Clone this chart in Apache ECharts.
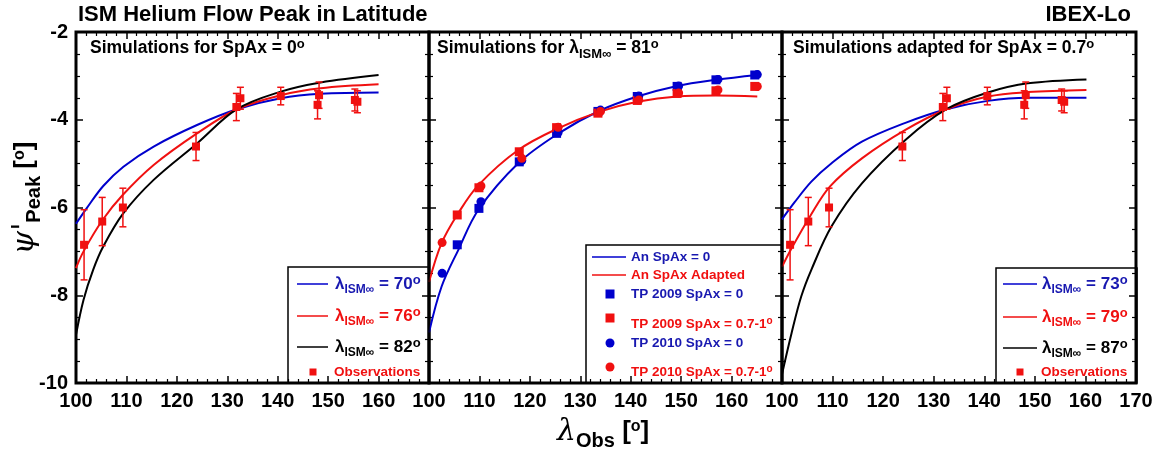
<!DOCTYPE html>
<html>
<head>
<meta charset="utf-8">
<title>ISM Helium Flow Peak in Latitude</title>
<script src="https://cdn.jsdelivr.net/npm/echarts@6/dist/echarts.min.js"></script>
<style>
  html, body { margin: 0; padding: 0; background: #fff; }
  #chart { width: 1164px; height: 455px; }
</style>
</head>
<body>
<div id="chart"></div>
<script>
// observations, shown in panels 1 and 3
const obsX = [101.6, 105.2, 109.3, 123.8, 131.8, 132.6, 140.6, 147.9, 148.2, 155.3, 155.8];
const obsY = [-6.85, -6.32, -6.0, -4.61, -3.71, -3.51, -3.46, -3.66, -3.44, -3.55, -3.59];
const obsErr = [0.8, 0.55, 0.44, 0.32, 0.31, 0.25, 0.2, 0.32, 0.3, 0.25, 0.25];

// panel 1: simulations for SpAx = 0
const p1Lam70 = [[100, -6.37], [102.1, -6.02], [105.4, -5.51], [109.4, -5.07], [115.4, -4.61], [124, -4.12], [131.9, -3.76], [140.6, -3.51], [148.5, -3.41], [160, -3.38]];
const p1Lam76 = [[100, -7.38], [101.5, -7.0], [105.3, -6.28], [109.3, -5.71], [115.4, -5.03], [124, -4.31], [131.9, -3.76], [140.6, -3.44], [148.5, -3.28], [160, -3.19]];
const p1Lam82 = [[100, -8.9], [101.5, -8.1], [103.4, -7.42], [105.4, -6.89], [109.4, -6.13], [115.4, -5.37], [124, -4.54], [131.9, -3.76], [140.6, -3.36], [148.5, -3.15], [160, -2.98]];

// panel 2: simulations for lambda = 81
const p2AnSpAx0 = [[100, -8.85], [102.5, -7.8], [105.8, -6.97], [109.8, -6.05], [117.7, -4.99], [125.7, -4.31], [133.7, -3.8], [141.3, -3.47], [149.2, -3.23], [156.9, -3.09], [165.1, -2.98]];
const p2AnAdapted = [[100, -7.7], [102.5, -6.81], [105.8, -6.13], [109.8, -5.49], [117.7, -4.69], [125.7, -4.19], [133.7, -3.82], [141.3, -3.59], [149.2, -3.47], [156.9, -3.45], [165.1, -3.47]];
const tp2009X = [105.6, 109.9, 117.9, 125.3, 133.5, 141.3, 149.2, 156.9, 164.6];
const tp2009Y0 = [-6.85, -6.02, -4.96, -4.31, -3.81, -3.47, -3.24, -3.09, -2.98];
const tp2009YAd = [-6.17, -5.55, -4.73, -4.18, -3.85, -3.56, -3.4, -3.34, -3.24];
const tp2010X = [102.6, 110.3, 118.4, 125.6, 134.0, 141.6, 149.5, 157.3, 165.1];
const tp2010Y0 = [-7.5, -5.87, -4.93, -4.29, -3.78, -3.46, -3.23, -3.08, -2.97];
const tp2010YAd = [-6.8, -5.51, -4.88, -4.17, -3.81, -3.55, -3.39, -3.32, -3.24];

// panel 3: simulations adapted for SpAx = 0.7
const p3Lam73 = [[100, -6.27], [102.5, -5.88], [105.8, -5.41], [109.8, -4.99], [115.8, -4.5], [124.4, -4.07], [132.5, -3.76], [140.7, -3.57], [148.6, -3.5], [160.2, -3.5]];
const p3Lam79 = [[100, -7.35], [101.9, -6.93], [105.5, -6.21], [109.5, -5.52], [115.8, -4.88], [124.4, -4.23], [132.5, -3.76], [140.7, -3.47], [148.6, -3.37], [160.2, -3.32]];
const p3Lam87 = [[100, -9.8], [101.9, -8.86], [103.8, -8.03], [105.8, -7.42], [109.8, -6.43], [115.8, -5.45], [124.4, -4.46], [132.5, -3.76], [140.7, -3.38], [148.6, -3.17], [160.2, -3.08]];

const FONT = 'Liberation Sans, Arial, Helvetica, sans-serif';
const BLUE = '#0000cc';
const RED = '#f01010';
const TBLUE = '#1818b0';

const chart = echarts.init(document.getElementById('chart'));

const gridBoxes = [
  { left: 76, width: 353 },
  { left: 429, width: 353 },
  { left: 782, width: 354 }
];

const grids = gridBoxes.map(g => ({
  left: g.left, top: 32, width: g.width, height: 351,
  show: true, borderColor: '#000', borderWidth: 3, backgroundColor: 'transparent',
  outerBoundsMode: 'none', containLabel: false
}));

const tickStyle = { color: '#000', width: 1.5 };
const labelStyle = { fontSize: 20, fontWeight: 'bold', color: '#000', fontFamily: FONT };

const xAxes = [];
const yAxes = [];
gridBoxes.forEach((g, i) => {
  ['bottom', 'top'].forEach(pos => {
    xAxes.push({
      type: 'value', gridIndex: i, position: pos, min: 100, max: 170, interval: 10,
      axisLine: { show: false }, splitLine: { show: false },
      axisTick: { show: true, inside: true, length: 7, lineStyle: tickStyle },
      minorTick: { show: true, splitNumber: 5, length: 4, lineStyle: { color: '#000', width: 1.2 } },
      axisLabel: Object.assign({ show: pos === 'bottom', margin: 8, showMinLabel: true, showMaxLabel: i === 2 }, labelStyle)
    });
  });
  ['left', 'right'].forEach(pos => {
    yAxes.push({
      type: 'value', gridIndex: i, position: pos, min: -10, max: -2, interval: 2,
      axisLine: { show: false }, splitLine: { show: false },
      axisTick: { show: true, inside: true, length: 7, lineStyle: tickStyle },
      minorTick: { show: true, splitNumber: 4, length: 4, lineStyle: { color: '#000', width: 1.2 } },
      axisLabel: Object.assign({ show: pos === 'left' && i === 0, margin: 8 }, labelStyle)
    });
  });
});

function curve(name, data, g, color) {
  return {
    name, type: 'line', data, xAxisIndex: 2 * g, yAxisIndex: 2 * g,
    smooth: 0.35, showSymbol: false, symbol: 'none',
    lineStyle: { color, width: 2 }, z: 2, silent: true
  };
}

function pts(name, xs, ys, g, color, symbol, size) {
  return {
    name, type: 'scatter', data: xs.map((x, i) => [x, ys[i]]),
    xAxisIndex: 2 * g, yAxisIndex: 2 * g,
    symbol, symbolSize: size, itemStyle: { color, opacity: 1 }, z: 4, silent: true
  };
}

function errBars(g) {
  return {
    type: 'custom', xAxisIndex: 2 * g, yAxisIndex: 2 * g, silent: true, z: 3,
    data: obsX.map((x, i) => [x, obsY[i] - obsErr[i], obsY[i] + obsErr[i]]),
    encode: { x: 0, y: [1, 2] },
    renderItem: (params, api) => {
      const lo = api.coord([api.value(0), api.value(1)]);
      const hi = api.coord([api.value(0), api.value(2)]);
      const c = 3.5;
      const st = { stroke: RED, lineWidth: 1.5 };
      return {
        type: 'group', children: [
          { type: 'line', shape: { x1: lo[0], y1: lo[1], x2: hi[0], y2: hi[1] }, style: st },
          { type: 'line', shape: { x1: lo[0] - c, y1: lo[1], x2: lo[0] + c, y2: lo[1] }, style: st },
          { type: 'line', shape: { x1: hi[0] - c, y1: hi[1], x2: hi[0] + c, y2: hi[1] }, style: st }
        ]
      };
    }
  };
}

// rich text with sub / superscript
function rt(S, color) {
  const L = Math.round(S * 1.4);
  const ss = Math.round(S * 0.72);
  const up = Math.round(S * 0.24);
  const base = { fontWeight: 'bold', fontFamily: FONT, fill: color };
  return {
    n: Object.assign({}, base, { fontSize: S, lineHeight: L }),
    sub: Object.assign({}, base, { fontSize: ss, lineHeight: ss, padding: [L - ss, 0, 0, 0] }),
    sup: Object.assign({}, base, { fontSize: Math.round(S * 0.75), lineHeight: L - 2 * up, padding: [0, 0, 2 * up, 0] })
  };
}

function txt(x, y, text, rich, align) {
  return { type: 'text', x, y, z: 20, silent: true, style: { text, rich, align: align || 'left', verticalAlign: 'middle' } };
}
function lineEl(x1, x2, y, color) {
  return { type: 'line', z: 20, silent: true, shape: { x1, y1: y, x2, y2: y }, style: { stroke: color, lineWidth: 1.5 } };
}
function sq(cx, cy, s, color) {
  return { type: 'rect', z: 20, silent: true, shape: { x: cx - s / 2, y: cy - s / 2, width: s, height: s }, style: { fill: color } };
}
function dot(cx, cy, r, color) {
  return { type: 'circle', z: 20, silent: true, shape: { cx, cy, r }, style: { fill: color } };
}
function box(x, y, w, h) {
  return { type: 'rect', z: 19, silent: true, shape: { x, y, width: w, height: h }, style: { fill: 'none', stroke: '#000', lineWidth: 1.5 } };
}

const lamText = v => '{n|λ}{sub|ISM∞}{n| = ' + v + '}{sup|o}';
const titleRich = { n: { fontSize: 22, fontWeight: 'bold', fontFamily: FONT, fill: '#000' } };

const graphics = [
  txt(78, 15, '{n|ISM Helium Flow Peak in Latitude}', titleRich),
  txt(1131, 15, '{n|IBEX-Lo}', titleRich, 'right'),

  // panel titles
  txt(90, 48, '{n|Simulations for SpAx = 0}{sup|o}', rt(17.5, '#000')),
  txt(437, 48, '{n|Simulations for λ}{sub|ISM∞}{n| = 81}{sup|o}', rt(17.5, '#000')),
  txt(793, 48, '{n|Simulations adapted for SpAx = 0.7}{sup|o}', rt(17.5, '#000')),

  // panel 1 legend
  box(288, 267, 141, 116),
  lineEl(297, 328, 284, BLUE), txt(335, 284, lamText(70), rt(17, TBLUE)),
  lineEl(297, 328, 316, RED), txt(335, 316, lamText(76), rt(17, RED)),
  lineEl(297, 328, 347, '#000'), txt(335, 347, lamText(82), rt(17, '#000')),
  sq(313, 372, 7, RED), txt(334, 372, '{n|Observations}', rt(13.5, RED)),

  // panel 2 legend
  box(586, 245, 196, 138),
  lineEl(592, 626, 257, BLUE), txt(631, 257, '{n|An SpAx = 0}', rt(13.5, TBLUE)),
  lineEl(592, 626, 275, RED), txt(631, 275, '{n|An SpAx Adapted}', rt(13.5, RED)),
  sq(610, 294, 9, BLUE), txt(631, 294, '{n|TP 2009 SpAx = 0}', rt(13.5, TBLUE)),
  sq(610, 318, 9, RED), txt(631, 324, '{n|TP 2009 SpAx = 0.7-1}{sup|o}', rt(13.5, RED)),
  dot(610, 343, 4.5, BLUE), txt(631, 343, '{n|TP 2010 SpAx = 0}', rt(13.5, TBLUE)),
  dot(610, 367, 4.5, RED), txt(631, 372, '{n|TP 2010 SpAx = 0.7-1}{sup|o}', rt(13.5, RED)),

  // panel 3 legend
  box(996, 268, 141, 115),
  lineEl(1003, 1037, 284, BLUE), txt(1042, 284, lamText(73), rt(17, TBLUE)),
  lineEl(1003, 1037, 317, RED), txt(1042, 317, lamText(79), rt(17, RED)),
  lineEl(1003, 1037, 348, '#000'), txt(1042, 348, lamText(87), rt(17, '#000')),
  sq(1020, 372, 7, RED), txt(1041, 372, '{n|Observations}', rt(13.5, RED)),

  // x axis title
  txt(557, 432, '{l|λ}{sub|Obs}{n| [}{sup|o}{n|]}', {
    l: { fontSize: 30, fontStyle: 'italic', fontFamily: 'DejaVu Serif', fill: '#000', lineHeight: 40 },
    sub: { fontSize: 20, fontWeight: 'bold', fontFamily: FONT, fill: '#000', lineHeight: 22, padding: [18, 0, 0, 0] },
    n: { fontSize: 26, fontWeight: 'bold', fontFamily: FONT, fill: '#000', lineHeight: 40 },
    sup: { fontSize: 16, fontWeight: 'bold', fontFamily: FONT, fill: '#000', lineHeight: 29, padding: [0, 0, 11, 0] }
  }),

  // y axis title (rotated)
  Object.assign(txt(25, 198, '{p|ψ\'}{sub|Peak}{n| [}{sup|o}{n|]}', {
    p: { fontSize: 30, fontStyle: 'italic', fontFamily: 'DejaVu Serif', fill: '#000', lineHeight: 40 },
    sub: { fontSize: 20, fontWeight: 'bold', fontFamily: FONT, fill: '#000', lineHeight: 22, padding: [18, 0, 0, 0] },
    n: { fontSize: 26, fontWeight: 'bold', fontFamily: FONT, fill: '#000', lineHeight: 40 },
    sup: { fontSize: 16, fontWeight: 'bold', fontFamily: FONT, fill: '#000', lineHeight: 29, padding: [0, 0, 11, 0] }
  }, 'center'), { rotation: Math.PI / 2 })
];

const series = [
  curve('lambda 70', p1Lam70, 0, BLUE),
  curve('lambda 76', p1Lam76, 0, RED),
  curve('lambda 82', p1Lam82, 0, '#000'),
  errBars(0),
  pts('Observations', obsX, obsY, 0, RED, 'rect', 8),

  curve('An SpAx = 0', p2AnSpAx0, 1, BLUE),
  curve('An SpAx Adapted', p2AnAdapted, 1, RED),
  pts('TP 2009 SpAx = 0', tp2009X, tp2009Y0, 1, BLUE, 'rect', 9),
  pts('TP 2009 SpAx = 0.7-1', tp2009X, tp2009YAd, 1, RED, 'rect', 9),
  pts('TP 2010 SpAx = 0', tp2010X, tp2010Y0, 1, BLUE, 'circle', 9),
  pts('TP 2010 SpAx = 0.7-1', tp2010X, tp2010YAd, 1, RED, 'circle', 9),

  curve('lambda 73', p3Lam73, 2, BLUE),
  curve('lambda 79', p3Lam79, 2, RED),
  curve('lambda 87', p3Lam87, 2, '#000'),
  errBars(2),
  pts('Observations', obsX, obsY, 2, RED, 'rect', 8)
];

chart.setOption({
  animation: false,
  backgroundColor: '#fff',
  grid: grids,
  xAxis: xAxes,
  yAxis: yAxes,
  series,
  graphic: graphics
});
</script>
</body>
</html>
